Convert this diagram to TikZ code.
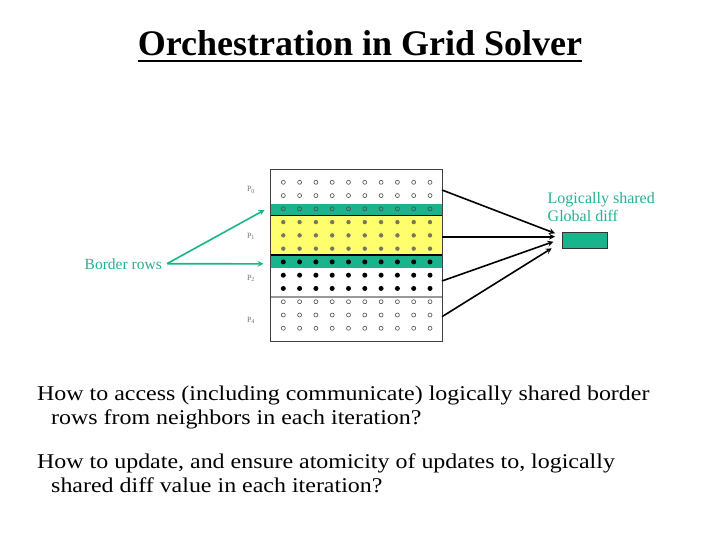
\documentclass[tikz,border=0pt]{standalone}
\usepackage{fontspec}
\setmainfont{Liberation Serif}
\newfontfamily\bodyfont[FakeStretch=1.14]{Liberation Serif}
\usetikzlibrary{arrows,positioning}
\definecolor{bandgreen}{RGB}{26,180,140}
\definecolor{notegreen}{RGB}{38,174,148}
\definecolor{bandyellow}{RGB}{255,255,110}
\definecolor{dotgrey}{RGB}{122,117,95}
\tikzstyle{band} = [rectangle, fill=bandgreen, minimum width=171.3pt, minimum height=12pt, inner sep=0pt]
\tikzstyle{plabel} = [text=black!55, font=\fontsize{8}{9}\selectfont, inner sep=0pt]
\tikzstyle{note} = [text=notegreen, font=\fontsize{16}{18}\selectfont, inner sep=0pt]
\tikzstyle{body} = [font=\bodyfont\fontsize{21}{24}\selectfont, inner sep=0pt]
\tikzstyle{arrow} = [line width=1.6pt,->,>=stealth]
\tikzstyle{greenarrow} = [line width=1.6pt,->,>=stealth,draw=bandgreen]

\begin{document}
\begin{tikzpicture}[x=1pt,y=-1pt]
\useasboundingbox (0,0) rectangle (720,540);

\node (title) [inner sep=0pt, anchor=base, font=\fontsize{36}{40}\selectfont\bfseries] at (360,56) {Orchestration in Grid Solver};
\draw [line width=2.5pt] ([yshift=-5pt]title.base west) -- ([yshift=-5pt]title.base east);

% partition bands
\fill [bandyellow] (270.7,215.7) rectangle (442,255);
\node (band0) [band, minimum height=11.4pt] at (356.35,210) {};
\node (band1) [band, minimum height=12.7pt] at (356.35,261.35) {};
\draw [line width=1.2pt] (270.7,215.7) -- (442,215.7);
\draw [line width=1.2pt] (270.7,255) -- (442,255);
\draw [black!40, line width=1.2pt] (270.7,297) -- (442,297);

% grid points
\foreach \j in {0,1,2,9,10,11}
  \foreach \i in {0,...,9}
    \draw [black!70, line width=0.6pt] (283.3+16.3*\i,182.3+13.27*\j) circle (2pt);
\foreach \j in {3,4,5}
  \foreach \i in {0,...,9}
    \fill [dotgrey] (283.3+16.3*\i,182.3+13.27*\j) circle (2.2pt);
\foreach \j in {6,7,8}
  \foreach \i in {0,...,9}
    \fill [black] (283.3+16.3*\i,182.3+13.27*\j) circle (2.5pt);

\node (grid) [draw=black!75, line width=0.8pt, minimum width=171.3pt, minimum height=172pt, inner sep=0pt] at (356.35,255) {};

\node (p0) [plabel] at (251,190) {P\textsubscript{0}};
\node (p1) [plabel] at (251,236) {P\textsubscript{1}};
\node (p2) [plabel] at (251,278) {P\textsubscript{2}};
\node (p4) [plabel] at (251,320) {P\textsubscript{4}};

% shared diff
\node (diff) [fill=bandgreen, draw=black!80, line width=0.6pt, minimum width=44.6pt, minimum height=16pt, inner sep=0pt] at (585,240.3) {};
\node (shared) [note, anchor=base west] at (547.5,203.3) {Logically shared};
\node (global) [note, anchor=base west] at (547.5,221.3) {Global diff};

\coordinate (s0) at (442,190);
\coordinate (s1) at (442,236.7);
\coordinate (s2) at (442,281);
\coordinate (s3) at (442,316.7);
\coordinate (d0) at (555,233.3);
\coordinate (d1) at (555,236.7);
\coordinate (d2) at (553.3,241.7);
\coordinate (d3) at (551.7,248.3);
\draw [arrow] (s0) -- (d0);
\draw [arrow] (s1) -- (d1);
\draw [arrow] (s2) -- (d2);
\draw [arrow] (s3) -- (d3);

% border rows
\node (border) [note, font=\fontsize{15.5}{18}\selectfont, anchor=base east] at (162,269) {Border rows};
\draw [greenarrow] ([xshift=5pt]border.east) -- ([xshift=-6pt]band0.west);
\draw [greenarrow] ([xshift=5pt]border.east) -- ([xshift=-7pt,yshift=-2.5pt]band1.west);

% questions
\node (q1a) [body, anchor=base west] at (37,400) {How to access (including communicate) logically shared border};
\node (q1b) [body, anchor=base west] at ([xshift=14pt,yshift=-24pt]q1a.base west) {rows from neighbors in each iteration?};
\node (q2a) [body, anchor=base west] at (37,468) {How to update, and ensure atomicity of updates to, logically};
\node (q2b) [body, anchor=base west] at ([xshift=14pt,yshift=-24pt]q2a.base west) {shared diff value in each iteration?};
\end{tikzpicture}
\end{document}
